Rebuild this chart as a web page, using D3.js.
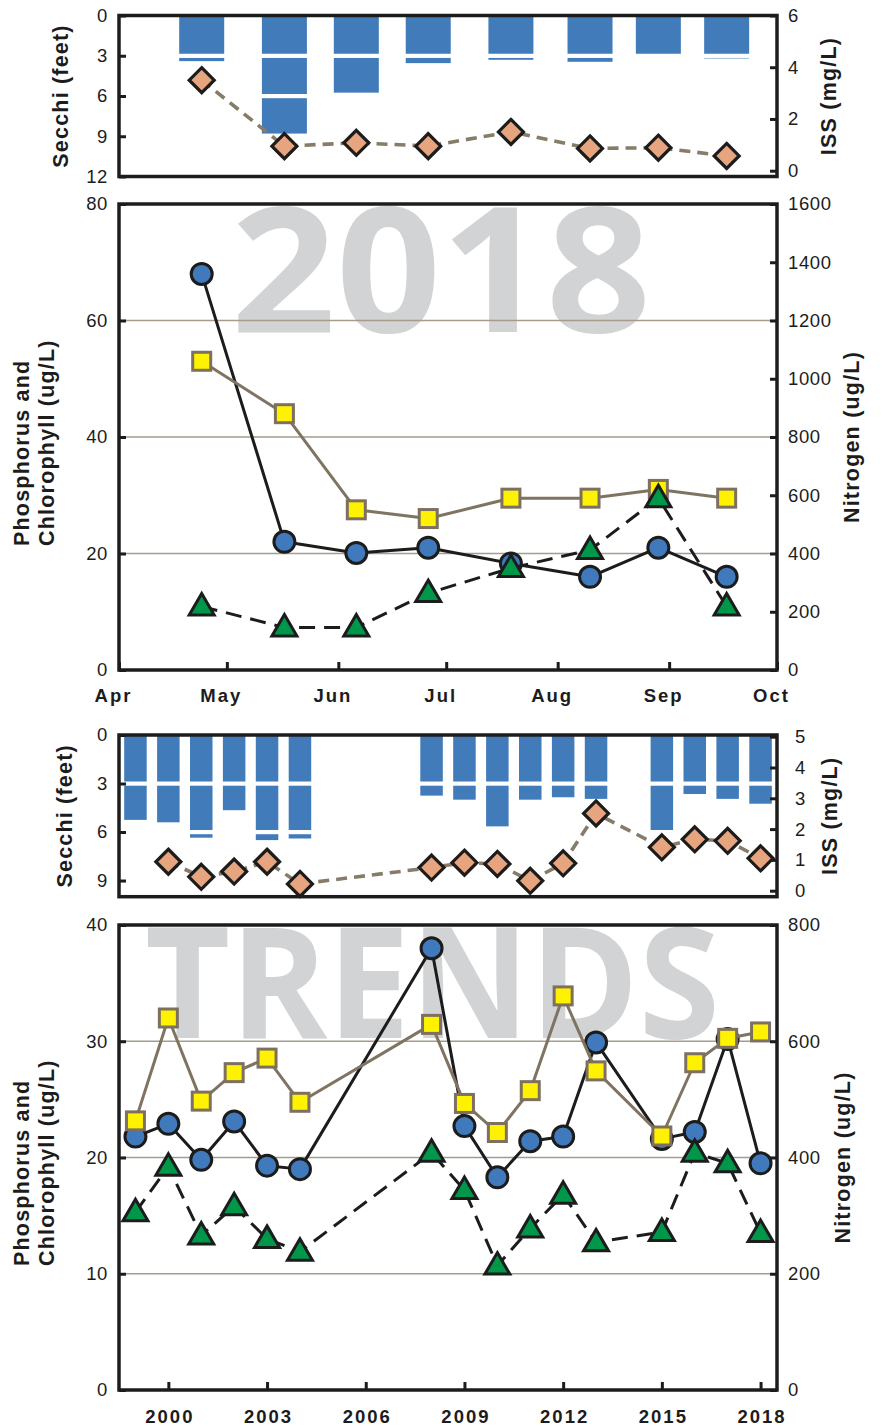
<!DOCTYPE html>
<html><head><meta charset="utf-8">
<script src="https://cdn.jsdelivr.net/npm/d3@7"></script>
<style>body{margin:0;background:#fff} svg{display:block}</style>
</head><body><div id="chart"></div>
<script>
// ---------------- DATA ----------------
const sampleDates2018 = ["2018-04-24","2018-05-17","2018-06-06","2018-06-26","2018-07-19","2018-08-10","2018-08-29","2018-09-17"];
const secchi2018      = [3.4, 8.8, 5.75, 3.55, 3.3, 3.45, 3.0, 3.2];
const iss2018         = [3.5, 0.95, 1.08, 0.95, 1.5, 0.86, 0.89, 0.57];
const phosphorus2018  = [68, 22, 20.1, 21, 18.3, 16, 21, 16];
const chlorophyll2018 = [10.9, 7.3, 7.3, 13.2, 17.5, 20.6, 29.5, 10.9];
const nitrogen2018    = [1060, 880, 550, 520, 590, 590, 620, 590];
const monthTicks      = ["2018-04-01","2018-05-01","2018-06-01","2018-07-01","2018-08-01","2018-09-01","2018-10-01"];
const monthLabels     = ["Apr","May","Jun","Jul","Aug","Sep","Oct"];

const trendYears       = [1999,2000,2001,2002,2003,2004,2008,2009,2010,2011,2012,2013,2015,2016,2017,2018];
const secchiTrend      = [5.25,5.4,6.35,4.65,6.5,6.4,3.75,4.0,5.65,4.0,3.85,3.95,6.0,3.65,3.95,4.25];
const issYears         = [2000,2001,2002,2003,2004,2008,2009,2010,2011,2012,2013,2015,2016,2017,2018];
const issTrend         = [0.94,0.45,0.62,0.94,0.22,0.75,0.91,0.87,0.32,0.89,2.51,1.41,1.67,1.62,1.05];
const phosphorusTrend  = [21.8,22.9,19.8,23.1,19.3,19.0,38.0,22.7,18.3,21.4,21.8,29.9,21.6,22.2,30.2,19.5];
const chlorophyllTrend = [15.3,19.2,13.3,15.8,13.0,11.9,20.4,17.2,10.7,13.9,16.8,12.7,13.6,20.4,19.5,13.5];
const nitrogenTrend    = [463,640,497,546,571,495,629,493,443,515,678,549,437,563,605,616];
const yearTicks        = [2000,2003,2006,2009,2012,2015,2018];

const secchiTicks1 = [0,3,6,9,12], issTicks1 = [0,2,4,6];
const leftTicks2 = [0,20,40,60,80], rightTicks2 = [0,200,400,600,800,1000,1200,1400,1600];
const secchiTicks3 = [0,3,6,9], issTicks3 = [0,1,2,3,4,5];
const leftTicks4 = [0,10,20,30,40], rightTicks4 = [0,200,400,600,800];

// ---------------- STYLE / LAYOUT ----------------
const W = 883, H = 1425, L = 119, R = 777;
const FONT = "'Liberation Sans', Arial, Helvetica, sans-serif";
const INK = "#1c1c1c";
const C = {bar:"#417bba", blue:"#4179bd", yellow:"#fff200", sqStroke:"#7d705f", green:"#00974a",
           diamond:"#e6a57e", issLine:"#877b69", nLine:"#7f7361", grid:"#a59c8b", wm:"#d1d3d4"};

const svg = d3.select("#chart").append("svg").attr("width", W).attr("height", H)
  .style("font-family", FONT);

const parse = d3.utcParse("%Y-%m-%d");
const dates = sampleDates2018.map(parse);

const xTime = d3.scaleUtc().domain([parse("2018-04-01"), parse("2018-10-01")]).range([L, R]);
const xYear = d3.scaleLinear().domain([1998.5, 2018.5]).range([L, R]);

const P1 = {top:15.5, bottom:176.5}, P2 = {top:204, bottom:670}, P3 = {top:735, bottom:896.7}, P4 = {top:925, bottom:1390};

const ySec1 = d3.scaleLinear().domain([0,12]).range([P1.top, P1.bottom]);
const yIss1 = d3.scaleLinear().domain([0,6]).range([170.7, P1.top]);
const yL2 = d3.scaleLinear().domain([0,80]).range([P2.bottom, P2.top]);
const yR2 = d3.scaleLinear().domain([0,1600]).range([P2.bottom, P2.top]);
const ySec3 = d3.scaleLinear().domain([0,10]).range([P3.top, P3.bottom]);
const yIss3 = d3.scaleLinear().domain([0,5]).range([890.7, 736.7]);
const yL4 = d3.scaleLinear().domain([0,40]).range([P4.bottom, P4.top]);
const yR4 = d3.scaleLinear().domain([0,800]).range([P4.bottom, P4.top]);

// ---------------- HELPERS ----------------
function watermark(text, x, y, size, len){
  svg.append("text").attr("x", x).attr("y", y).text(text)
    .attr("font-family", "'Open Sans', 'DejaVu Sans', sans-serif").attr("font-weight", 700)
    .attr("font-size", size).attr("fill", C.wm)
    .attr("textLength", len).attr("lengthAdjust", "spacingAndGlyphs");
}
function grid(yScale, vals){
  svg.append("g").selectAll("line").data(vals).join("line")
    .attr("x1", L).attr("x2", R).attr("y1", d=>yScale(d)).attr("y2", d=>yScale(d))
    .attr("stroke", C.grid).attr("stroke-width", 1.5);
}
function styleAxis(g){
  g.select(".domain").remove();
  g.selectAll(".tick line").attr("stroke", INK).attr("stroke-width", 3);
  g.selectAll(".tick text").attr("fill", INK).attr("font-size", 18.5).attr("letter-spacing", 0.6)
    .attr("font-family", FONT);
}
function leftAxis(scale, ticks){
  const g = svg.append("g").attr("transform", `translate(${L},0)`)
    .call(d3.axisLeft(scale).tickValues(ticks).tickSize(-7).tickPadding(11).tickFormat(d3.format("d")));
  styleAxis(g); return g;
}
function rightAxis(scale, ticks, pad){
  const g = svg.append("g").attr("transform", `translate(${R},0)`)
    .call(d3.axisRight(scale).tickValues(ticks).tickSize(-7).tickPadding(pad).tickFormat(d3.format("d")));
  styleAxis(g); return g;
}
function frame(p){
  svg.append("rect").attr("x", L).attr("y", p.top).attr("width", R-L).attr("height", p.bottom-p.top)
    .attr("fill", "none").attr("stroke", INK).attr("stroke-width", 3.5);
}
function bars(xs, vals, yScale, width){
  const g = svg.append("g");
  g.selectAll("rect.bar").data(vals).join("rect").attr("class","bar")
    .attr("x", (d,i)=>xs[i]-width/2).attr("width", width)
    .attr("y", yScale(0)).attr("height", d=>yScale(d)-yScale(0))
    .attr("fill", C.bar);
  const seps = [];
  vals.forEach((v,i)=>{ for(let k=3;k<=v+0.01;k+=3) seps.push({x:xs[i], k}); });
  g.selectAll("rect.sep").data(seps).join("rect").attr("class","sep")
    .attr("x", d=>d.x-width/2-1).attr("width", width+2)
    .attr("y", d=>yScale(d.k)-2).attr("height", 4.2).attr("fill", "#fff");
}
function line(xs, vals, yScale, color, dash, w){
  const pts = vals.map((v,i)=>[xs[i], yScale(v)]);
  svg.append("path").attr("d", d3.line()(pts)).attr("fill","none")
    .attr("stroke", color).attr("stroke-width", w || 3).attr("stroke-linejoin","round")
    .attr("stroke-dasharray", dash || null);
}
function circles(xs, vals, yScale){
  svg.append("g").selectAll("circle").data(vals).join("circle")
    .attr("cx",(d,i)=>xs[i]).attr("cy", d=>yScale(d)).attr("r", 10.5)
    .attr("fill", C.blue).attr("stroke", INK).attr("stroke-width", 3);
}
function squares(xs, vals, yScale){
  const s = 18;
  svg.append("g").selectAll("rect").data(vals).join("rect")
    .attr("x",(d,i)=>xs[i]-s/2).attr("y", d=>yScale(d)-s/2).attr("width", s).attr("height", s)
    .attr("fill", C.yellow).attr("stroke", C.sqStroke).attr("stroke-width", 3);
}
function triangles(xs, vals, yScale){
  svg.append("g").selectAll("path").data(vals).join("path")
    .attr("d", "M0,-13L12.5,8.5L-12.5,8.5Z")
    .attr("transform",(d,i)=>`translate(${xs[i]},${yScale(d)})`)
    .attr("fill", C.green).attr("stroke", INK).attr("stroke-width", 3).attr("stroke-linejoin","miter");
}
function diamonds(xs, vals, yScale){
  svg.append("g").selectAll("path").data(vals).join("path")
    .attr("d", "M0,-12.5L12.5,0L0,12.5L-12.5,0Z")
    .attr("transform",(d,i)=>`translate(${xs[i]},${yScale(d)})`)
    .attr("fill", C.diamond).attr("stroke", INK).attr("stroke-width", 3.2);
}
function title(text, x, y, anchor){
  svg.append("text").attr("transform", `translate(${x},${y}) rotate(-90)`)
    .attr("text-anchor", anchor).attr("font-weight", 700).attr("font-size", 21.5)
    .attr("letter-spacing", 1.2).attr("fill", INK).text(text);
}

// ---------------- PANEL 1 : Secchi / ISS 2018 ----------------
const xs2018 = dates.map(d=>xTime(d));
bars(xs2018, secchi2018, ySec1, 45);
line(xs2018, iss2018, yIss1, C.issLine, "11,7", 3.6);
diamonds(xs2018, iss2018, yIss1);
leftAxis(ySec1, secchiTicks1);
rightAxis(yIss1, issTicks1, 11);
frame(P1);
title("Secchi (feet)", 68, (P1.top+P1.bottom)/2, "middle");
title("ISS (mg/L)", 836, (P1.top+P1.bottom)/2, "middle");

// ---------------- PANEL 2 : Nutrients 2018 ----------------
watermark("2018", 231, 332, 175, 420);
grid(yL2, [20,40,60]);
line(xs2018, phosphorus2018, yL2, INK);
circles(xs2018, phosphorus2018, yL2);
line(xs2018, nitrogen2018, yR2, C.nLine);
squares(xs2018, nitrogen2018, yR2);
line(xs2018, chlorophyll2018, yL2, INK, "16,9");
triangles(xs2018, chlorophyll2018, yL2);
leftAxis(yL2, leftTicks2);
rightAxis(yR2, rightTicks2, 11);
{
  const g = svg.append("g").attr("transform", `translate(0,${P2.bottom})`)
    .call(d3.axisBottom(xTime).tickValues(monthTicks.map(parse)).tickSize(-8)
      .tickFormat((d,i)=>monthLabels[i]));
  g.select(".domain").remove();
  g.selectAll(".tick line").attr("stroke", INK).attr("stroke-width", 3);
  g.selectAll(".tick text").attr("dy", null).attr("y", 32).attr("dx", -6)
    .attr("font-size", 18.5).attr("font-weight", 700).attr("letter-spacing", 2).attr("fill", INK)
    .attr("font-family", FONT);
}
frame(P2);
title("Phosphorus and", 29, 546, "start");
title("Chlorophyll (ug/L)", 54, 546, "start");
title("Nitrogen (ug/L)", 859, (P2.top+P2.bottom)/2, "middle");

// ---------------- PANEL 3 : Secchi / ISS trends ----------------
const xsT = trendYears.map(y=>xYear(y));
const xsIss = issYears.map(y=>xYear(y));
bars(xsT, secchiTrend, ySec3, 22.5);
line(xsIss, issTrend, yIss3, C.issLine, "11,7", 3.6);
diamonds(xsIss, issTrend, yIss3);
leftAxis(ySec3, secchiTicks3);
rightAxis(yIss3, issTicks3, 18);
frame(P3);
title("Secchi (feet)", 72, (P3.top+P3.bottom)/2, "middle");
title("ISS (mg/L)", 837, (P3.top+P3.bottom)/2, "middle");

// ---------------- PANEL 4 : Nutrient trends ----------------
watermark("TRENDS", 145, 1038, 154, 575);
grid(yL4, [10,20,30]);
line(xsT, phosphorusTrend, yL4, INK);
circles(xsT, phosphorusTrend, yL4);
line(xsT, nitrogenTrend, yR4, C.nLine);
squares(xsT, nitrogenTrend, yR4);
line(xsT, chlorophyllTrend, yL4, INK, "16,9");
triangles(xsT, chlorophyllTrend, yL4);
leftAxis(yL4, leftTicks4);
rightAxis(yR4, rightTicks4, 11);
{
  const g = svg.append("g").attr("transform", `translate(0,${P4.bottom})`)
    .call(d3.axisBottom(xYear).tickValues(yearTicks).tickSize(-8).tickFormat(d3.format("d")));
  g.select(".domain").remove();
  g.selectAll(".tick line").attr("stroke", INK).attr("stroke-width", 3);
  g.selectAll(".tick text").attr("dy", null).attr("y", 32.5).attr("dx", 1)
    .attr("font-size", 18.5).attr("font-weight", 700).attr("letter-spacing", 2).attr("fill", INK)
    .attr("font-family", FONT);
}
frame(P4);
title("Phosphorus and", 29, 1266, "start");
title("Chlorophyll (ug/L)", 54, 1266, "start");
title("Nitrogen (ug/L)", 850, (P4.top+P4.bottom)/2, "middle");
</script>
</body></html>
